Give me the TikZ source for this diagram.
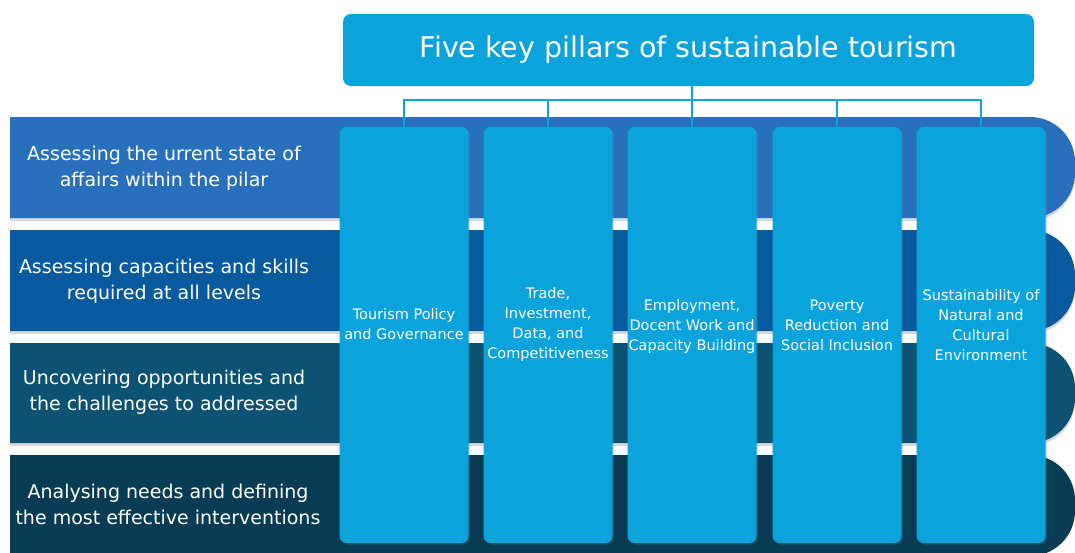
\documentclass[tikz,border=0pt]{standalone}
\usepackage{fontspec}
\setmainfont{DejaVu Sans}
\usetikzlibrary{positioning, shadows}
\definecolor{pillarblue}{RGB}{10, 163, 220}
\definecolor{rowone}{RGB}{40, 112, 188}
\definecolor{rowtwo}{RGB}{8, 90, 158}
\definecolor{rowthree}{RGB}{12, 82, 114}
\definecolor{rowfour}{RGB}{7, 60, 84}
\tikzset{
  heading/.style={
    fill=pillarblue,
    rounded corners=8pt,
    minimum width=691pt,
    minimum height=72pt,
    text=white,
    font=\fontsize{28.5}{32}\selectfont
  },
  pillar/.style={
    fill=pillarblue,
    rounded corners=7pt,
    minimum width=129pt,
    minimum height=416pt,
    drop shadow={opacity=0.25, shadow xshift=1.5pt, shadow yshift=-1.5pt}
  },
  pillartext/.style={
    text=white,
    align=center,
    inner sep=0pt,
    font=\fontsize{14.5}{20}\selectfont
  },
  band/.style={
    drop shadow={opacity=0.3, shadow xshift=0pt, shadow yshift=-3pt}
  },
  bandtext/.style={
    text=white,
    align=center,
    font=\fontsize{19}{26}\selectfont
  },
  link/.style={
    draw=pillarblue,
    line width=2pt
  }
}

\begin{document}
\begin{tikzpicture}[x=1pt, y=-1pt]
  \useasboundingbox (0,0) rectangle (1075,552);
  % rows
  \fill[rowone, band] (10,117) [rounded corners=45pt] -- (1075,117) -- (1075,218) [sharp corners] -- (10,218) -- cycle;
  \fill[rowtwo, band] (10,230) [rounded corners=45pt] -- (1075,230) -- (1075,331) [sharp corners] -- (10,331) -- cycle;
  \fill[rowthree, band] (10,343) [rounded corners=45pt] -- (1075,343) -- (1075,443) [sharp corners] -- (10,443) -- cycle;
  \fill[rowfour] (10,455) [rounded corners=45pt] -- (1075,455) -- (1075,556) [sharp corners] -- (10,556) -- cycle;

  \node[bandtext] (r1) at (164,168) {Assessing the urrent state of\\affairs within the pilar};
  \node[bandtext] (r2) at (164,281) {Assessing capacities and skills\\required at all levels};
  \node[bandtext] (r3) at (164,392) {Uncovering opportunities and\\the challenges to addressed};
  \node[bandtext] (r4) at (168,504) {Analysing needs and defining\\the most effective interventions};

  % pillars
  \node[pillar] (p1) at (404,335) {};
  \node[pillar] (p2) at (548,335) {};
  \node[pillar] (p3) at (692,335) {};
  \node[pillar] (p4) at (837,335) {};
  \node[pillar] (p5) at (981,335) {};

  \node[pillartext] (t1) at ([yshift=11pt]p1.center) {Tourism Policy\\and Governance};
  \node[pillartext] (t2) at ([yshift=11pt]p2.center) {Trade,\\Investment,\\Data, and\\Competitiveness};
  \node[pillartext] (t3) at ([yshift=9pt]p3.center) {Employment,\\Docent Work and\\Capacity Building};
  \node[pillartext] (t4) at ([yshift=10pt]p4.center) {Poverty\\Reduction and\\Social Inclusion};
  \node[pillartext] (t5) at ([yshift=10pt]p5.center) {Sustainability of\\Natural and\\Cultural\\Environment};

  % heading and its links
  \node[heading] (title) at (688.5,50) {Five key pillars of sustainable tourism};
  \coordinate (bus) at (0,100);

  \draw[link] (title.south -| p3.north) -- (p3.north);
  \draw[link] (p1.north) -- (p1.north |- bus) -- (p5.north |- bus) -- (p5.north);
  \draw[link] (p2.north |- bus) -- (p2.north);
  \draw[link] (p4.north |- bus) -- (p4.north);
\end{tikzpicture}
\end{document}
